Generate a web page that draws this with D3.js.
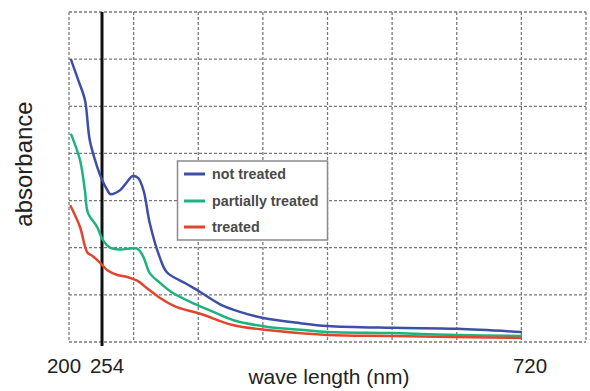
<!DOCTYPE html>
<html>
<head>
<meta charset="utf-8">
<script src="https://cdn.jsdelivr.net/npm/d3@7"></script>
<style>
  body { margin: 0; background: #fff; }
  svg { display: block; }
</style>
</head>
<body>
<div id="chart"></div>
<script>
// wavelengths (nm) and absorbance
const nmNotTreated = [203, 215, 226, 234, 246, 254, 260, 263, 274, 282, 288, 294, 300, 307, 318, 326, 348, 363, 385, 407, 433, 474, 504, 577, 648, 720];
const notTreated   = [3.00, 2.78, 2.57, 2.14, 1.86, 1.72, 1.61, 1.57, 1.61, 1.70, 1.76, 1.74, 1.61, 1.26, 0.90, 0.74, 0.615, 0.53, 0.40, 0.32, 0.255, 0.20, 0.17, 0.15, 0.14, 0.105];

const nmPartial = [203, 218, 226, 231, 246, 255, 263, 274, 293, 300, 307, 318, 331, 353, 375, 400, 438, 474, 504, 577, 648, 720];
const partial   = [2.21, 1.93, 1.61, 1.37, 1.22, 1.08, 1.00, 0.98, 0.99, 0.90, 0.73, 0.63, 0.53, 0.42, 0.33, 0.23, 0.16, 0.13, 0.106, 0.095, 0.074, 0.064];

const nmTreated = [202, 218, 230, 239, 251, 260, 271, 282, 293, 304, 318, 337, 363, 399, 437, 504, 577, 720];
const treated   = [1.45, 1.22, 0.95, 0.91, 0.84, 0.76, 0.71, 0.69, 0.65, 0.57, 0.47, 0.37, 0.30, 0.18, 0.127, 0.074, 0.064, 0.042];

const seriesNames = ["not treated", "partially treated", "treated"];
const seriesColors = ["#3d4fa6", "#1db37e", "#e2452e"];
const xTicks = [200, 254, 720];
const markerNm = 254;

const width = 590, height = 391;
const plotLeft = 69, plotRight = 586, plotTop = 12, plotBottom = 342;

const svg = d3.select("#chart").append("svg")
    .attr("width", width)
    .attr("height", height);

// axis is stretched around the 254 nm marker, like the original
const x = d3.scaleLinear()
    .domain([200, 254, 720, 790])
    .range([plotLeft, 102, 522, plotRight]);

const y = d3.scaleLinear()
    .domain([0, 3.5])
    .range([plotBottom, plotTop]);

//  grid
const grid = svg.append("g")
    .attr("stroke", "#7a7a7a")
    .attr("stroke-width", 1.3)
    .attr("stroke-dasharray", "3,2");

grid.selectAll("line.v")
    .data(d3.range(9))
    .join("line")
        .attr("class", "v")
        .attr("x1", i => plotLeft + i * (plotRight - plotLeft) / 8)
        .attr("x2", i => plotLeft + i * (plotRight - plotLeft) / 8)
        .attr("y1", plotTop)
        .attr("y2", plotBottom);

grid.selectAll("line.h")
    .data(y.ticks(7))
    .join("line")
        .attr("class", "h")
        .attr("x1", plotLeft)
        .attr("x2", plotRight)
        .attr("y1", d => y(d))
        .attr("y2", d => y(d));

//  the 254 nm marker
svg.append("line")
    .attr("x1", x(markerNm))
    .attr("x2", x(markerNm))
    .attr("y1", plotTop)
    .attr("y2", plotBottom + 4)
    .attr("stroke", "#111")
    .attr("stroke-width", 3);

//  curves
const series = [
    nmNotTreated.map((d, i) => [d, notTreated[i]]),
    nmPartial.map((d, i) => [d, partial[i]]),
    nmTreated.map((d, i) => [d, treated[i]])
];

const line = d3.line()
    .x(d => x(d[0]))
    .y(d => y(d[1]))
    .curve(d3.curveCatmullRom.alpha(0.5));

svg.append("g")
    .selectAll("path")
    .data(series)
    .join("path")
        .attr("d", line)
        .attr("fill", "none")
        .attr("stroke", (d, i) => seriesColors[i])
        .attr("stroke-width", 2.5)
        .attr("stroke-linejoin", "round");

//  tick labels
const tickShift = [-5, 5, 8];
svg.append("g")
    .selectAll("text")
    .data(xTicks)
    .join("text")
        .attr("x", (d, i) => x(d) + tickShift[i])
        .attr("y", 373)
        .attr("text-anchor", "middle")
        .attr("font-family", "Liberation Sans, Arial, sans-serif")
        .attr("font-size", 20.5)
        .attr("fill", "#222")
        .text(d => d);

//  axis titles
svg.append("text")
    .attr("x", 329)
    .attr("y", 384)
    .attr("text-anchor", "middle")
    .attr("font-family", "Liberation Sans, Arial, sans-serif")
    .attr("font-size", 21)
    .attr("fill", "#222")
    .text("wave length (nm)");

svg.append("text")
    .attr("transform", "translate(32,164) rotate(-90)")
    .attr("text-anchor", "middle")
    .attr("font-family", "Liberation Sans, Arial, sans-serif")
    .attr("font-size", 24)
    .attr("fill", "#222")
    .text("absorbance");

//  legend
const legend = svg.append("g");

legend.append("rect")
    .attr("x", 177.5)
    .attr("y", 161)
    .attr("width", 150)
    .attr("height", 79)
    .attr("fill", "#fff")
    .attr("stroke", "#8a8a8a")
    .attr("stroke-width", 1.5);

const rowY = [174, 201, 227];
const item = legend.selectAll("g.item")
    .data(seriesNames)
    .join("g")
        .attr("class", "item")
        .attr("transform", (d, i) => `translate(0,${rowY[i]})`);

item.append("line")
    .attr("x1", 184)
    .attr("x2", 205)
    .attr("stroke", (d, i) => seriesColors[i])
    .attr("stroke-width", 3);

item.append("text")
    .attr("x", 212)
    .attr("y", 5)
    .attr("font-family", "Liberation Sans, Arial, sans-serif")
    .attr("font-weight", "bold")
    .attr("font-size", 14.3)
    .attr("fill", "#4a4a4a")
    .text(d => d);
</script>
</body>
</html>
